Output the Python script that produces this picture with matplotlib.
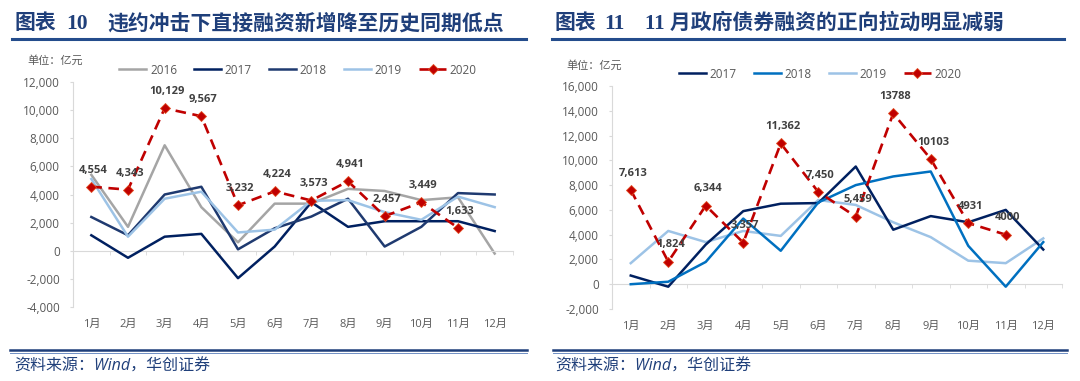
import matplotlib
matplotlib.use("Agg")
import matplotlib.pyplot as plt
import matplotlib.ticker as mticker
from matplotlib.lines import Line2D
import numpy as np

months = [f"{i}月" for i in range(1, 13)]

# 图表10: 直接融资新增 (亿元)
left_years = ["2016", "2017", "2018", "2019", "2020"]
left_2016 = [5400, 1700, 7500, 3100, 600, 3350, 3350, 4400, 4250, 3600, 3800, -200]
left_2017 = [1100, -500, 1000, 1200, -1950, 300, 3450, 1700, 2100, 2100, 2100, 1400]
left_2018 = [2400, 1100, 4000, 4550, 100, 1600, 2430, 3700, 300, 1700, 4100, 4000]
left_2019 = [5100, 1000, 3700, 4200, 1300, 1500, 3550, 3600, 2750, 2200, 3850, 3100]
left_2020 = [4554, 4343, 10129, 9567, 3232, 4224, 3573, 4941, 2457, 3449, 1633, np.nan]
left_2020_labels = ["4,554", "4,343", "10,129", "9,567", "3,232", "4,224",
                    "3,573", "4,941", "2,457", "3,449", "1,633"]

# 图表11: 政府债券融资 (亿元)
right_years = ["2017", "2018", "2019", "2020"]
right_2017 = [700, -200, 3200, 5900, 6500, 6550, 9500, 4400, 5500, 5000, 6000, 2800]
right_2018 = [0, 200, 1800, 5300, 2700, 6600, 8000, 8700, 9100, 3100, -200, 3400]
right_2019 = [1700, 4300, 3400, 4300, 3900, 6800, 6400, 5000, 3800, 1900, 1700, 3700]
right_2020 = [7613, 1824, 6344, 3357, 11362, 7450, 5459, 13788, 10103, 4931, 4000, np.nan]
right_2020_labels = ["7,613", "1,824", "6,344", "3,357", "11,362", "7,450",
                     "5,459", "13788", "10103", "4931", "4000"]

NAVY = "#1F3F7A"
GREY_TXT = "#595959"
AXIS_GREY = "#D9D9D9"
RED = "#C00000"

plt.rcParams.update({
    "font.family": ["Open Sans", "Noto Sans CJK SC", "DejaVu Sans"],
    "axes.unicode_minus": False,
})


def style_axes(ax, ylim, ystep):
    x = np.arange(12)
    ax.set_xlim(-0.5, 11.5)
    ax.set_ylim(*ylim)
    ax.set_yticks(np.arange(ylim[0], ylim[1] + 1, ystep))
    ax.yaxis.set_major_formatter(mticker.FuncFormatter(lambda v, p: f"{v:,.0f}"))
    ax.tick_params(axis="y", length=2.5, color=AXIS_GREY, labelsize=8.5,
                   labelcolor=GREY_TXT, pad=7)
    for s in ("top", "right"):
        ax.spines[s].set_visible(False)
    ax.spines["left"].set_color(AXIS_GREY)
    ax.spines["bottom"].set_color(AXIS_GREY)
    ax.spines["bottom"].set_position(("data", 0))
    ax.set_xticks(x)
    ax.set_xticks(np.arange(-0.5, 12, 1), minor=True)
    ax.tick_params(axis="x", which="major", length=0, labelbottom=False)
    ax.tick_params(axis="x", which="minor", length=3, color=AXIS_GREY)
    sec = ax.secondary_xaxis("bottom")
    sec.set_xticks(x, months)
    sec.tick_params(length=0, pad=8.5, labelsize=8, labelcolor=GREY_TXT)
    sec.spines["bottom"].set_visible(False)


def plot_2020(ax, values, labels):
    x = np.arange(12)
    ax.plot(x, values, color=RED, lw=1.9, linestyle=(0, (4, 2.5)),
            marker="D", markersize=5.5, markerfacecolor=RED,
            markeredgecolor="#E2491F", markeredgewidth=0.6, zorder=6, label="2020")
    for xi, v, t in zip(x, values, labels):
        ax.annotate(t, (xi, v), xytext=(1.5, 12), textcoords="offset points",
                    ha="center", va="center", fontsize=8, fontweight="bold",
                    color="#404040", zorder=7)


fig = plt.figure(figsize=(10.8, 3.81), dpi=100)
W, H = 1080, 381

# ---- left chart ----
axl = fig.add_axes([73 / W, 1 - 307 / H, 440 / W, 225 / H])
x = np.arange(12)
axl.plot(x, left_2016, color="#A5A5A5", lw=1.8, label="2016", zorder=2)
axl.plot(x, left_2017, color="#002060", lw=1.8, label="2017", zorder=3)
axl.plot(x, left_2018, color="#1F3A70", lw=1.8, label="2018", zorder=3)
axl.plot(x, left_2019, color="#9DC3E6", lw=1.8, label="2019", zorder=4)
plot_2020(axl, left_2020, left_2020_labels)
style_axes(axl, (-4000, 12000), 2000)

# ---- right chart ----
axr = fig.add_axes([612 / W, 1 - 309 / H, 450 / W, 223 / H])
axr.plot(x, right_2017, color="#002060", lw=1.8, label="2017", zorder=3)
axr.plot(x, right_2018, color="#0070C0", lw=1.8, label="2018", zorder=3)
axr.plot(x, right_2019, color="#9DC3E6", lw=1.8, label="2019", zorder=2)
plot_2020(axr, right_2020, right_2020_labels)
style_axes(axr, (-2000, 16000), 2000)

for ax, cx, cy in ((axl, 298, 70), (axr, 820, 74)):
    h, l = ax.get_legend_handles_labels()
    fig.legend(h, l, loc="center", bbox_to_anchor=(cx / W, 1 - cy / H), ncol=len(l),
               frameon=False, fontsize=8.5, handlelength=2.3, handletextpad=0.3,
               columnspacing=1.45, labelcolor=GREY_TXT)

# unit labels
fig.text(27 / W, 1 - 61 / H, "单位：亿元", fontsize=8, color=GREY_TXT, va="center")
fig.text(566 / W, 1 - 66 / H, "单位：亿元", fontsize=8, color=GREY_TXT, va="center")

# titles
title_font = ["Liberation Serif", "Noto Sans CJK SC"]
ty = 1 - 24 / H
for x0, num, x1, x2, text in (
        (14, "10", 66, 107, "违约冲击下直接融资新增降至历史同期低点"),
        (554, "11", 604, 645, "11 月政府债券融资的正向拉动明显减弱")):
    fig.text(x0 / W, ty, "图表", fontsize=15, fontweight="bold", color=NAVY,
             va="center", family=title_font)
    fig.text(x1 / W, ty, num, fontsize=15.5, fontweight="bold", color=NAVY,
             va="center", family=title_font)
    fig.text(x2 / W, ty, text, fontsize=15, fontweight="bold", color=NAVY,
             va="center", family=title_font)

# rules
for xa, xb in ((12, 526), (552, 1064)):
    fig.add_artist(Line2D([xa / W, xb / W], [1 - 39 / H] * 2, color="#244C8C",
                          lw=2.2, transform=fig.transFigure))
for xa, xb in ((10, 527), (553, 1067)):
    fig.add_artist(Line2D([xa / W, xb / W], [1 - 350 / H] * 2, color=NAVY,
                          lw=1.8, transform=fig.transFigure))
    fig.add_artist(Line2D([xa / W, xb / W], [1 - 352.5 / H] * 2, color="#6F8FC4",
                          lw=0.7, transform=fig.transFigure))

# source
for x0 in (14, 555):
    fig.text(x0 / W, 1 - 367 / H, "资料来源：Wind，华创证券", fontsize=11.5,
             style="italic", color=NAVY, va="center")

fig.savefig("out.png", dpi=100)
